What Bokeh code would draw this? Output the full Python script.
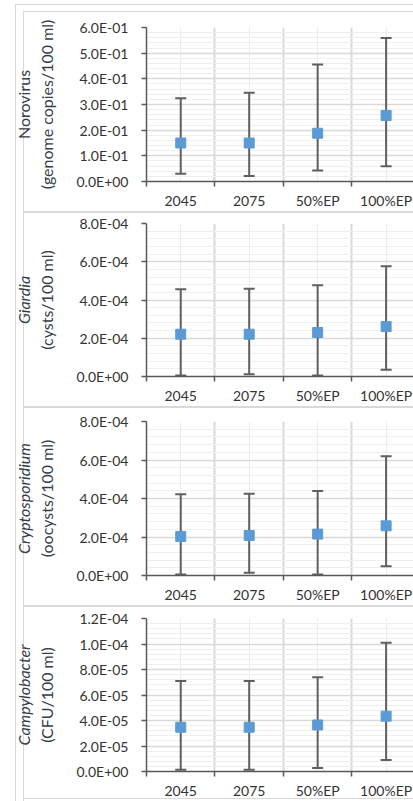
import numpy as np
from bokeh.plotting import figure
from bokeh.layouts import column
from bokeh.models import (ColumnDataSource, Range1d, FixedTicker, CustomJSTickFormatter,
                          Whisker, TeeHead, LinearAxis, Div)
from bokeh.embed import file_html
from bokeh.resources import INLINE

# ---------------- data ----------------
categories = ["2045", "2075", "50%EP", "100%EP"]

noro_mean = [0.150, 0.150, 0.188, 0.257]
noro_upper = [0.324, 0.346, 0.456, 0.559]
noro_lower = [0.030, 0.021, 0.043, 0.059]
noro_ticks = [0.0, 0.1, 0.2, 0.3, 0.4, 0.5, 0.6]
noro_tick_labels = ["0.0E+00", "1.0E-01", "2.0E-01", "3.0E-01", "4.0E-01", "5.0E-01", "6.0E-01"]

giardia_mean = [2.21e-4, 2.21e-4, 2.30e-4, 2.61e-4]
giardia_upper = [4.56e-4, 4.59e-4, 4.77e-4, 5.77e-4]
giardia_lower = [0.5e-5, 1.2e-5, 0.5e-5, 3.5e-5]
giardia_ticks = [0.0, 2e-4, 4e-4, 6e-4, 8e-4]
giardia_tick_labels = ["0.0E+00", "2.0E-04", "4.0E-04", "6.0E-04", "8.0E-04"]

crypto_mean = [2.03e-4, 2.08e-4, 2.15e-4, 2.58e-4]
crypto_upper = [4.22e-4, 4.25e-4, 4.39e-4, 6.20e-4]
crypto_lower = [0.5e-5, 1.4e-5, 0.5e-5, 4.8e-5]
crypto_ticks = [0.0, 2e-4, 4e-4, 6e-4, 8e-4]
crypto_tick_labels = ["0.0E+00", "2.0E-04", "4.0E-04", "6.0E-04", "8.0E-04"]

campy_mean = [3.47e-5, 3.47e-5, 3.65e-5, 4.34e-5]
campy_upper = [7.1e-5, 7.1e-5, 7.4e-5, 10.1e-5]
campy_lower = [0.13e-5, 0.13e-5, 0.28e-5, 0.9e-5]
campy_ticks = [0.0, 2e-5, 4e-5, 6e-5, 8e-5, 1.0e-4, 1.2e-4]
campy_tick_labels = ["0.0E+00", "2.0E-05", "4.0E-05", "6.0E-05", "8.0E-05", "1.0E-04", "1.2E-04"]

organisms = ["Norovirus", "Giardia", "Cryptosporidium", "Campylobacter"]
units = ["(genome copies/100 ml)", "(cysts/100 ml)", "(oocysts/100 ml)", "(CFU/100 ml)"]

# ---------------- style ----------------
W = 413
FRAME_LEFT = 146
FONT = "Lato"
TICK_COLOR = "#333333"
LABEL_COLOR = "#343d4a"
AXIS_COLOR = "#595959"
RULE = "#d9d9d9"
MARKER = "#5b9bd5"
ERR = "#5f5f5f"


def bar(x, y, w, h):
    """one CSS background layer drawing a solid rule rectangle"""
    return f"linear-gradient({RULE},{RULE}) {x}px {y} / {w} {h} no-repeat"


V_OUTER = bar(15, "0px", "1px", "100%")
V_INNER = bar(23, "0px", "1px", "100%")

# panel heights, borders (top, bottom), extra rules
panels = [
    dict(h=199, bt=15, bb=29, italic=False, sep=False, bottom=False),
    dict(h=195, bt=12, bb=29, italic=True, sep=True, bottom=False),
    dict(h=199, bt=15, bb=29, italic=True, sep=True, bottom=False),
    dict(h=196, bt=13, bb=28, italic=True, sep=True, bottom=True),
]

series = [
    (noro_mean, noro_upper, noro_lower, noro_ticks, noro_tick_labels),
    (giardia_mean, giardia_upper, giardia_lower, giardia_ticks, giardia_tick_labels),
    (crypto_mean, crypto_upper, crypto_lower, crypto_ticks, crypto_tick_labels),
    (campy_mean, campy_upper, campy_lower, campy_ticks, campy_tick_labels),
]

figs = []
x_pos = [i + 0.5 for i in range(len(categories))]

for k, (spec, (mean, upper, lower, ticks, tlabels)) in enumerate(zip(panels, series)):
    h = spec["h"]
    layers = [V_OUTER, V_INNER]
    if spec["sep"]:
        layers.append(bar(23, "0px", "100%", "2px"))
    if spec["bottom"]:
        layers.append(bar(23, f"{h - 3}px", "100%", "1px"))
    p = figure(width=W, height=h, output_backend="svg", toolbar_location=None,
               x_range=Range1d(0, 3.9), y_range=Range1d(ticks[0], ticks[-1]),
               min_border_left=FRAME_LEFT, min_border_right=0,
               min_border_top=spec["bt"], min_border_bottom=spec["bb"],
               styles={"background": ", ".join(layers)})
    p.outline_line_color = None
    p.background_fill_color = "white"
    p.border_fill_alpha = 0.0

    # x axis: labels at category centres, tick marks at category boundaries
    p.xaxis.ticker = FixedTicker(ticks=x_pos, minor_ticks=list(range(len(categories) + 1)))
    p.xaxis.formatter = CustomJSTickFormatter(args=dict(cats=categories),
                                              code="return cats[Math.round(tick - 0.5)];")
    p.xaxis.major_tick_line_color = None
    p.xaxis.major_tick_out = 0
    p.xaxis.major_tick_in = 0
    p.xaxis.minor_tick_out = 5
    p.xaxis.minor_tick_in = 0
    p.xaxis.minor_tick_line_color = AXIS_COLOR
    p.xaxis.minor_tick_line_width = 1.5
    p.xaxis.axis_line_color = AXIS_COLOR
    p.xaxis.axis_line_width = 1.5
    p.xaxis.major_label_standoff = 5
    p.xaxis.major_label_text_font = FONT
    p.xaxis.major_label_text_font_size = "14px"
    p.xaxis.major_label_text_color = TICK_COLOR

    # y axis with the units line as its title
    nminor = (len(ticks) - 1) * 5 + 1
    yminor = list(np.linspace(ticks[0], ticks[-1], nminor))
    p.yaxis.ticker = FixedTicker(ticks=ticks, minor_ticks=yminor)
    p.yaxis.formatter = CustomJSTickFormatter(
        args=dict(tv=ticks, tl=tlabels),
        code="let b = 0; for (let i = 0; i < tv.length; i++) {"
             " if (Math.abs(tv[i] - tick) < Math.abs(tv[b] - tick)) b = i; }"
             " return tl[b];")
    p.yaxis.major_tick_out = 5
    p.yaxis.major_tick_in = 0
    p.yaxis.major_tick_line_color = AXIS_COLOR
    p.yaxis.major_tick_line_width = 1.5
    p.yaxis.minor_tick_line_color = None
    p.yaxis.minor_tick_out = 0
    p.yaxis.minor_tick_in = 0
    p.yaxis.axis_line_color = AXIS_COLOR
    p.yaxis.axis_line_width = 1.5
    p.yaxis.major_label_standoff = 13
    p.yaxis.major_label_text_font = FONT
    p.yaxis.major_label_text_font_size = "14px"
    p.yaxis.major_label_text_color = TICK_COLOR
    p.yaxis.axis_label = units[k]
    p.yaxis.axis_label_standoff = 18
    p.yaxis.axis_label_text_font = FONT
    p.yaxis.axis_label_text_font_size = "16px"
    p.yaxis.axis_label_text_font_style = "normal"
    p.yaxis.axis_label_text_color = LABEL_COLOR

    # second, bare left axis carrying the organism name
    org_axis = LinearAxis(ticker=FixedTicker(ticks=[]), axis_label=organisms[k],
                          axis_line_color=None, major_tick_line_color=None,
                          minor_tick_line_color=None, major_tick_out=0, major_tick_in=0,
                          minor_tick_out=0, minor_tick_in=0,
                          major_label_text_font_size="0px", major_label_standoff=0,
                          axis_label_standoff=1, axis_label_text_font=FONT,
                          axis_label_text_font_size="16px",
                          axis_label_text_font_style="italic" if spec["italic"] else "normal",
                          axis_label_text_color=LABEL_COLOR)
    p.add_layout(org_axis, "left")

    # grids
    p.xgrid.grid_line_color = "#ececec"
    p.xgrid.grid_line_width = 1
    p.xgrid.minor_grid_line_color = "#d9d9d9"
    p.xgrid.minor_grid_line_width = 2
    p.ygrid.grid_line_color = "#d9d9d9"
    p.ygrid.grid_line_width = 1.5
    p.ygrid.minor_grid_line_color = "#efefef"
    p.ygrid.minor_grid_line_width = 1

    src = ColumnDataSource(dict(x=x_pos, y=mean, upper=upper, lower=lower))
    wh = Whisker(source=src, base="x", upper="upper", lower="lower", dimension="height",
                 line_color=ERR, line_width=2, level="underlay",
                 upper_head=TeeHead(size=11, line_color=ERR, line_width=2),
                 lower_head=TeeHead(size=11, line_color=ERR, line_width=2))
    p.add_layout(wh)
    p.scatter("x", "y", source=src, marker="square", size=10,
              fill_color=MARKER, line_color=MARKER)
    figs.append(p)

# top strip carrying the outer and panel top rules
top_layers = [bar(15, "4px", "100%", "1px"), bar(15, "4px", "1px", "100%"),
              bar(23, "11px", "100%", "1px"), bar(23, "11px", "1px", "100%")]
top = Div(text="", width=W, height=12, margin=0,
          styles={"background": ", ".join(top_layers)})

page = column(top, *figs, spacing=0)
open("out.html", "w").write(file_html(page, INLINE))
